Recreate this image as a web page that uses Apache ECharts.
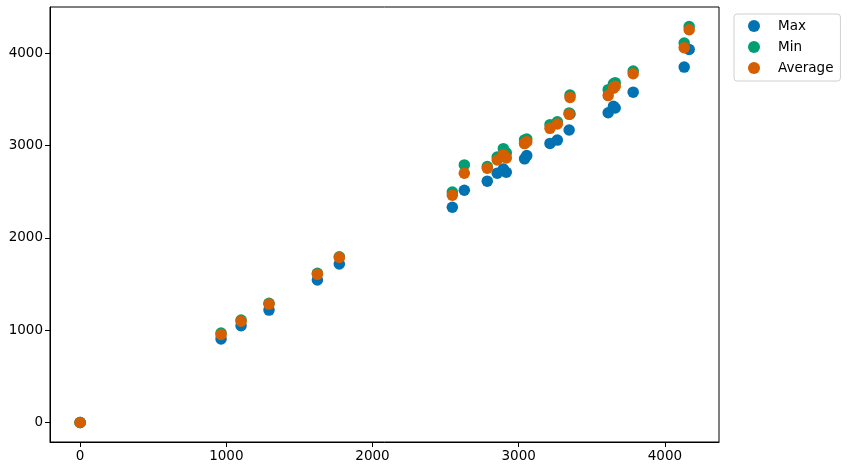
<!DOCTYPE html>
<html>
<head>
<meta charset="utf-8">
<script src="https://cdn.jsdelivr.net/npm/echarts@6/dist/echarts.min.js"></script>
<style>
  html, body { margin: 0; padding: 0; background: #fff; }
  #chart { width: 848px; height: 470px; }
</style>
</head>
<body>
<div id="chart"></div>
<script>
// x values shared by all three series
var xs = [0, 964, 1101, 1292, 1623, 1773, 2546, 2628, 2785, 2853, 2895, 2915,
  3040, 3055, 3214, 3264, 3345, 3351, 3612, 3648, 3660, 3783, 4132, 4166];
var maxVals = [0, 905, 1048, 1217, 1543, 1716, 2331, 2515, 2613, 2700, 2745, 2710,
  2855, 2890, 3022, 3058, 3167, 3340, 3354, 3425, 3405, 3577, 3848, 4040];
var minVals = [0, 968, 1110, 1290, 1615, 1795, 2495, 2789, 2771, 2875, 2965, 2920,
  3060, 3070, 3225, 3257, 3352, 3545, 3604, 3668, 3680, 3805, 4108, 4288];
var avgVals = [0, 953, 1097, 1282, 1604, 1788, 2461, 2699, 2753, 2843, 2900, 2865,
  3020, 3040, 3185, 3232, 3337, 3520, 3540, 3620, 3640, 3776, 4058, 4253];

var seriesNames = ['Max', 'Min', 'Average'];
var seriesColors = ['#0173b2', '#029e73', '#d55e00'];

function pairs(ys) {
  return xs.map(function (x, i) { return [x, ys[i]]; });
}

var chart = echarts.init(document.getElementById('chart'));
var font = 'DejaVu Sans';

var axisCommon = {
  type: 'value',
  minInterval: 1000,
  maxInterval: 1000,
  splitLine: { show: false },
  axisLine: { show: true, onZero: false, lineStyle: { color: '#000', width: 1 } },
  axisTick: { show: true, inside: false, length: 5, lineStyle: { color: '#000' } },
  axisLabel: {
    color: '#000', fontFamily: font, fontSize: 13.5, margin: 7,
    showMinLabel: false, showMaxLabel: false,
    formatter: function (v) { return String(v); }
  }
};

var option = {
  backgroundColor: '#fff',
  animation: false,
  grid: {
    left: 50, right: 129, top: 7, bottom: 28,
    show: true, borderColor: '#000', borderWidth: 1
  },
  xAxis: Object.assign({}, axisCommon, { min: -206, max: 4370 }),
  yAxis: Object.assign({}, axisCommon, { min: -211, max: 4499 }),
  legend: {
    orient: 'vertical',
    left: 734, top: 14,
    padding: [5, 7, 6, 14],
    itemWidth: 12, itemHeight: 12, itemGap: 7,
    icon: 'circle',
    borderColor: '#d0d0d0', borderWidth: 1, borderRadius: 3,
    backgroundColor: '#fff',
    textStyle: { color: '#000', fontFamily: font, fontSize: 13.5, lineHeight: 12, padding: [0, 0, 0, 13] },
    data: seriesNames
  },
  series: [maxVals, minVals, avgVals].map(function (ys, i) {
    return {
      name: seriesNames[i],
      type: 'scatter',
      symbol: 'circle',
      symbolSize: 11.5,
      itemStyle: { color: seriesColors[i], opacity: 1 },
      data: pairs(ys)
    };
  })
};

chart.setOption(option);
</script>
</body>
</html>
